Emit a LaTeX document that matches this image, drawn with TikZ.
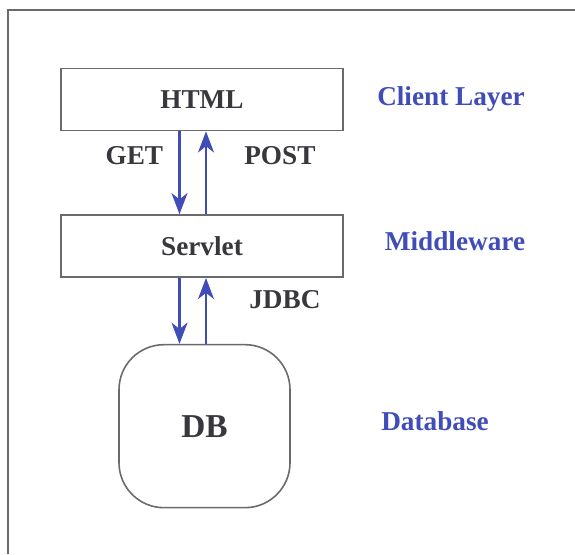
\documentclass[tikz,border=0pt]{standalone}
\usepackage{fontspec}
\setmainfont{Liberation Serif}
\usetikzlibrary{positioning, arrows.meta}
\definecolor{layerblue}{RGB}{64,76,184}
\definecolor{boxtext}{RGB}{55,55,60}
\definecolor{boxline}{RGB}{105,105,110}
\tikzset{
  layerbox/.style={draw=boxline, line width=0.9pt, minimum width=5.64cm, minimum height=1.24cm, text=boxtext, font=\fontsize{15.5}{18}\selectfont\bfseries},
  dbbox/.style={draw=boxline, line width=0.9pt, rounded corners=0.9cm, minimum width=3.42cm, minimum height=3.26cm, text=boxtext, font=\fontsize{19}{22}\selectfont\bfseries},
  layer/.style={text=layerblue, font=\fontsize{15.5}{18}\selectfont\bfseries},
  proto/.style={text=boxtext, font=\fontsize{15.5}{18}\selectfont\bfseries},
  flow/.style={-{Stealth[length=12pt, width=9pt, inset=3.5pt]}, draw=layerblue, line width=1.7pt}
}

\begin{document}
\begin{tikzpicture}
\useasboundingbox (0,0) rectangle (11.5,-11.08);
% frame, only its top and left edges fall inside the page
\draw[boxline, line width=1.1pt] (0.16,-11.08) -- (0.16,-0.2) -- (11.5,-0.2);

\node[layerbox] (html) at (4.04,-1.99) {HTML};
\node[layerbox, below=1.66cm of html] (servlet) {Servlet};
\node[dbbox, below=1.32cm of servlet, xshift=0.05cm] (db) {DB};

\node[layer] (client) at (9.02,-1.98) {Client Layer};
\node[layer] (middle) at (9.1,-4.82) {Middleware};
\node[layer] (dblayer) at (8.7,-8.42) {Database};

\draw[flow] ([xshift=-0.45cm]html.south) -- node[pos=0.29, left=0.18cm, proto] (get) {GET} ([xshift=-0.45cm]servlet.north);
\draw[flow] ([xshift=0.08cm]servlet.north) -- node[pos=0.71, right=0.62cm, proto] (post) {POST} ([xshift=0.08cm]html.south);
\draw[flow] ([xshift=-0.45cm]servlet.south) -- ([xshift=-0.45cm]servlet.south |- db.north);
\draw[flow] ([xshift=0.08cm]servlet.south |- db.north) -- node[pos=0.67, right=0.72cm, proto] (jdbc) {JDBC} ([xshift=0.08cm]servlet.south);
\end{tikzpicture}
\end{document}
